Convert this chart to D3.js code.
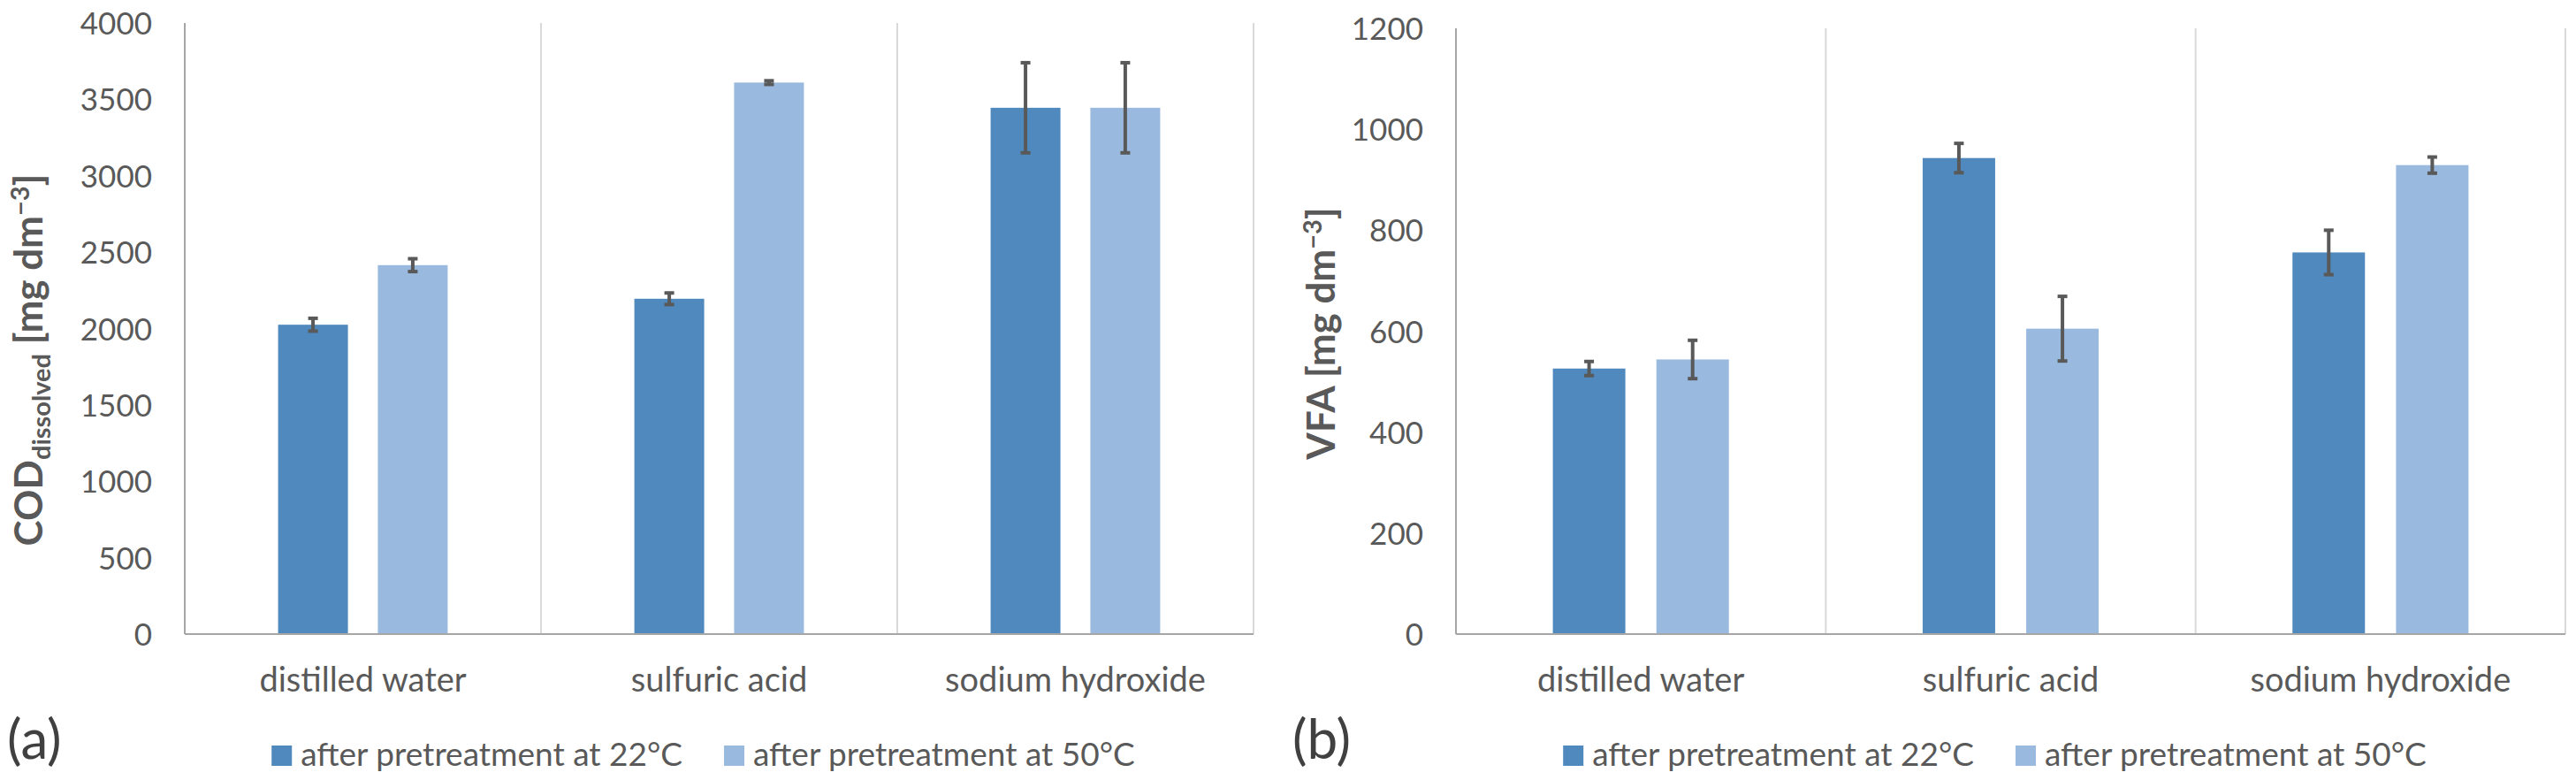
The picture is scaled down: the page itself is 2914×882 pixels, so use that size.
<!DOCTYPE html>
<html>
<head>
<meta charset="utf-8">
<title>COD and VFA after pretreatment</title>
<script src="https://d3js.org/d3.v7.min.js"></script>
<style>
  body { margin: 0; background: #fff; }
  text { font-family: Lato, "Open Sans", sans-serif; }
</style>
</head>
<body>
<script>
var width = 2914;
var height = 882;

// data
var categories = ["distilled water", "sulfuric acid", "sodium hydroxide"];
var seriesNames = ["after pretreatment at 22°C", "after pretreatment at 50°C"];
var seriesColors = ["#4f89bd", "#99b9df"];

var cod22 = [2025, 2195, 3445];
var cod50 = [2415, 3610, 3445];
var cod22Err = [42, 38, 295];
var cod50Err = [42, 12, 295];
var codTicks = [0, 500, 1000, 1500, 2000, 2500, 3000, 3500, 4000];

var vfa22 = [526, 943, 756];
var vfa50 = [544, 605, 929];
var vfa22Err = [14, 29, 44];
var vfa50Err = [38, 64, 16];
var vfaTicks = [0, 200, 400, 600, 800, 1000, 1200];

var textColor = "#595959";

var svg = d3.select("body").append("svg")
  .attr("width", width)
  .attr("height", height);

function drawPanel(p) {
  var g = svg.append("g");
  var x = d3.scaleBand().domain(categories).range([p.left, p.right]).padding(0);
  var bw = x.bandwidth();
  var xs = d3.scaleBand().domain(seriesNames).range([0.262 * bw, 0.738 * bw]).paddingInner(0.3).paddingOuter(0);
  var y = d3.scaleLinear().domain([0, d3.max(p.ticks)]).range([p.bottom, p.top]);

  // category separators
  g.selectAll("line.sep")
    .data(categories.slice(1).concat(["end"]))
    .enter()
    .append("line")
    .attr("class", "sep")
    .attr("x1", function(d) { return d == "end" ? p.right : x(d); })
    .attr("x2", function(d) { return d == "end" ? p.right : x(d); })
    .attr("y1", p.top)
    .attr("y2", p.bottom)
    .attr("stroke", "#d9d9d9")
    .attr("stroke-width", 2);

  // bars
  var rows = [];
  categories.forEach(function(c, i) {
    rows.push({ cat: c, s: seriesNames[0], v: p.a[i], e: p.aErr[i], col: seriesColors[0] });
    rows.push({ cat: c, s: seriesNames[1], v: p.b[i], e: p.bErr[i], col: seriesColors[1] });
  });

  g.selectAll("rect.bar")
    .data(rows)
    .enter()
    .append("rect")
    .attr("class", "bar")
    .attr("x", function(d) { return x(d.cat) + xs(d.s); })
    .attr("y", function(d) { return y(d.v); })
    .attr("width", xs.bandwidth())
    .attr("height", function(d) { return y(0) - y(d.v); })
    .attr("fill", function(d) { return d.col; });

  // error bars
  var eb = g.selectAll("g.err")
    .data(rows)
    .enter()
    .append("g")
    .attr("class", "err")
    .attr("stroke", "#595959")
    .attr("stroke-width", 4);
  var cx = function(d) { return x(d.cat) + xs(d.s) + xs.bandwidth() / 2; };
  eb.append("line")
    .attr("x1", cx).attr("x2", cx)
    .attr("y1", function(d) { return y(d.v + d.e); })
    .attr("y2", function(d) { return y(d.v - d.e); });
  eb.append("line")
    .attr("x1", function(d) { return cx(d) - 5.5; }).attr("x2", function(d) { return cx(d) + 5.5; })
    .attr("y1", function(d) { return y(d.v + d.e); })
    .attr("y2", function(d) { return y(d.v + d.e); });
  eb.append("line")
    .attr("x1", function(d) { return cx(d) - 5.5; }).attr("x2", function(d) { return cx(d) + 5.5; })
    .attr("y1", function(d) { return y(d.v - d.e); })
    .attr("y2", function(d) { return y(d.v - d.e); });

  // axes lines
  g.append("line")
    .attr("x1", p.left).attr("x2", p.left)
    .attr("y1", p.top).attr("y2", p.bottom)
    .attr("stroke", "#a6a6a6").attr("stroke-width", 2);
  g.append("line")
    .attr("x1", p.left).attr("x2", p.right)
    .attr("y1", p.bottom).attr("y2", p.bottom)
    .attr("stroke", "#a6a6a6").attr("stroke-width", 2);

  // y axis labels
  var yAxis = g.append("g")
    .attr("transform", "translate(" + p.left + ",0)")
    .call(d3.axisLeft(y).tickValues(p.ticks).tickSize(0).tickPadding(37).tickFormat(d3.format("d")));
  yAxis.select(".domain").remove();
  yAxis.selectAll("text")
    .attr("fill", textColor)
    .style("font-size", "35px")
    .attr("dy", "0.36em");

  // x axis labels
  g.selectAll("text.cat")
    .data(categories)
    .enter()
    .append("text")
    .attr("class", "cat")
    .attr("x", function(d) { return x(d) + bw / 2; })
    .attr("y", 782)
    .attr("text-anchor", "middle")
    .attr("fill", textColor)
    .style("font-size", "38px")
    .text(function(d) { return d; });

  // y title
  var t = g.append("text")
    .attr("transform", "translate(" + p.titleX + "," + p.titleY + ") rotate(-90)")
    .attr("text-anchor", "middle")
    .attr("fill", textColor)
    .style("font-size", "44px")
    .style("font-weight", "bold");
  t.append("tspan").text(p.titleMain);
  if (p.titleSub) {
    t.append("tspan").attr("dy", 9).style("font-size", "29px").text(p.titleSub);
    t.append("tspan").attr("dy", -9).text(" [mg dm");
  } else {
    t.append("tspan").text(" [mg dm");
  }
  t.append("tspan").attr("dy", -15).style("font-size", "29px").text("\u22123");
  t.append("tspan").attr("dy", 15).text("]");

  // legend
  var lg = g.append("g");
  var items = lg.selectAll("g.item")
    .data(seriesNames)
    .enter()
    .append("g")
    .attr("class", "item");
  items.append("rect")
    .attr("width", 23).attr("height", 23)
    .attr("y", 843)
    .attr("fill", function(d, i) { return seriesColors[i]; });
  items.append("text")
    .attr("x", 33)
    .attr("y", 866)
    .attr("fill", textColor)
    .style("font-size", "37px")
    .text(function(d) { return d; });
  var widths = [];
  items.each(function() { widths.push(this.getBBox().width); });
  var gap = 47;
  var total = d3.sum(widths) + gap;
  var start = (p.left + p.right) / 2 - 18 - total / 2;
  items.attr("transform", function(d, i) {
    return "translate(" + (start + (i ? widths[0] + gap : 0)) + ",0)";
  });

  // panel letter
  g.append("text")
    .attr("x", p.letterX)
    .attr("y", 858)
    .attr("fill", "#404040")
    .style("font-size", "62px")
    .text(p.letter);
}

drawPanel({
  left: 209, right: 1418, top: 26, bottom: 717,
  a: cod22, b: cod50, aErr: cod22Err, bErr: cod50Err, ticks: codTicks,
  titleMain: "COD", titleSub: "dissolved", titleX: 48, titleY: 407,
  letter: "(a)", letterX: 8
});

drawPanel({
  left: 1647, right: 2902, top: 32, bottom: 717,
  a: vfa22, b: vfa50, aErr: vfa22Err, bErr: vfa50Err, ticks: vfaTicks,
  titleMain: "VFA", titleSub: null, titleX: 1510, titleY: 377,
  letter: "(b)", letterX: 1462
});
</script>
</body>
</html>
